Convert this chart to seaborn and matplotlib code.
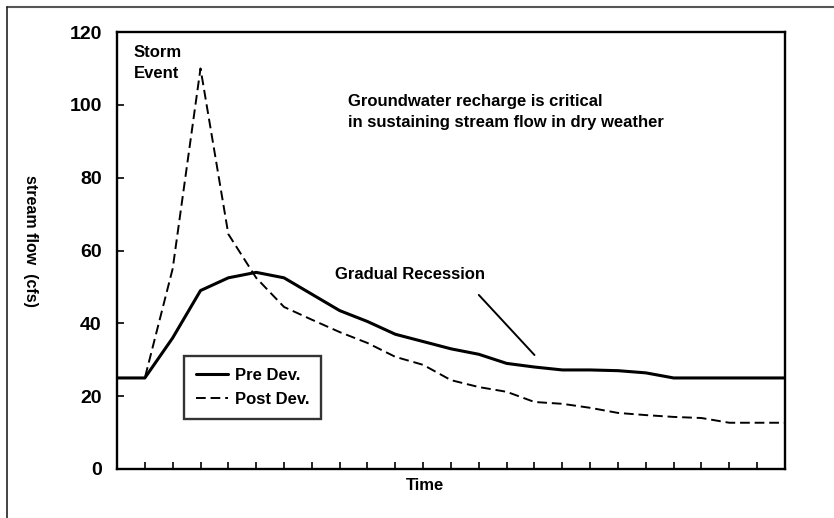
"""Storm hydrograph: pre vs post development stream flow."""

import matplotlib

matplotlib.use("Agg")
import matplotlib.pyplot as plt
import pandas as pd
import seaborn as sns

# time steps (one per tick) and flows
time_steps = list(range(25))
pre_dev = [25, 25, 36, 49, 52.5, 54, 52.5, 48, 43.5, 40.5, 37, 35, 33,
           31.5, 29, 28, 27.2, 27.2, 27, 26.4, 25, 25, 25, 25, 25]
post_dev = [25, 25, 55, 110, 64.5, 52.5, 44.5, 41, 37.6, 34.6, 30.8, 28.6,
            24.4, 22.5, 21.2, 18.4, 17.9, 16.8, 15.4, 14.8, 14.3, 14, 12.7,
            12.7, 12.7]
series_names = ["Pre Dev.", "Post Dev."]
y_ticks = [0, 20, 40, 60, 80, 100, 120]

df = pd.DataFrame({
    "time": time_steps * 2,
    "flow": pre_dev + post_dev,
    "series": [series_names[0]] * len(time_steps) + [series_names[1]] * len(time_steps),
})

sns.set_style("ticks")
plt.rcParams["font.family"] = ["Liberation Sans", "DejaVu Sans"]
plt.rcParams["text.color"] = "black"
plt.rcParams["axes.labelcolor"] = "black"

fig = plt.figure(figsize=(8.34, 5.18), dpi=100)
ax = fig.add_axes([0.1403, 0.0946, 0.8009, 0.8436])

sns.lineplot(data=df, x="time", y="flow", style="series", style_order=series_names,
             dashes={series_names[0]: "", series_names[1]: (5, 2.5)},
             color="black", ax=ax, legend=False)
ax.lines[0].set_linewidth(2.2)
ax.lines[1].set_linewidth(1.4)

ax.set_xlim(0, 24)
ax.set_ylim(0, 120)
ax.set_xticks(time_steps)
ax.set_xticklabels([])
ax.set_yticks(y_ticks)
ax.set_yticklabels([str(v) for v in y_ticks], fontsize=14, fontweight="bold")
ax.tick_params(direction="in", length=5, width=1.2, colors="black", pad=11)
for sp in ax.spines.values():
    sp.set_linewidth(1.7)
    sp.set_color("black")

ax.set_xlabel("")
ax.set_ylabel("")
fig.text(0.036, 0.535, "stream flow  (cfs)", rotation=-90, ha="center", va="center",
         fontsize=11.5, fontweight="bold")
fig.text(0.51, 0.063, "Time", ha="center", va="center", fontsize=12, fontweight="bold")

ax.text(0.6, 116.5, "Storm\nEvent", ha="left", va="top", fontsize=12,
        fontweight="bold", linespacing=1.5)
ax.text(8.3, 103, "Groundwater recharge is critical\nin sustaining stream flow in dry weather",
        ha="left", va="top", fontsize=12, fontweight="bold", linespacing=1.5)
ax.text(7.85, 53.3, "Gradual Recession", ha="left", va="center", fontsize=12,
        fontweight="bold")
ax.plot([13.0, 15.0], [47.8, 31.3], color="black", lw=1.4)

handles = [plt.Line2D([], [], color="black", lw=2.2),
           plt.Line2D([], [], color="black", lw=1.4, dashes=(5, 2.5))]
leg = ax.legend(handles, series_names, loc="upper left", bbox_to_anchor=(0.101, 0.258),
                frameon=True, fancybox=False, handlelength=1.9, handletextpad=0.45,
                borderpad=0.7, labelspacing=0.55, borderaxespad=0,
                prop={"weight": "bold", "size": 12})
leg.get_frame().set_edgecolor("black")
leg.get_frame().set_linewidth(1.7)

# scanned-page border on the top and left edges
fig.add_artist(plt.Line2D([0.0084, 1.0], [0.987, 0.987], color="#555555", lw=1.5,
                          transform=fig.transFigure))
fig.add_artist(plt.Line2D([0.0084, 0.0084], [0.0, 0.987], color="#222222", lw=1.2,
                          transform=fig.transFigure))

fig.savefig("out.png", dpi=100, facecolor="white")
